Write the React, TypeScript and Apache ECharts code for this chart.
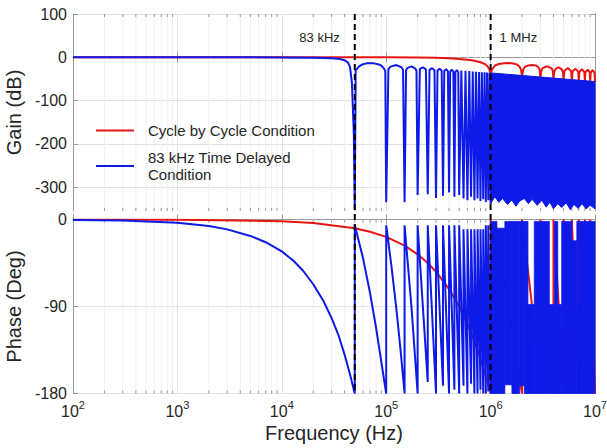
import React, { useEffect, useRef } from "react";
import * as echarts from "echarts";

// ---------------- data ----------------
const FREQ_MIN = 100;
const FREQ_MAX = 1e7;
const GAIN_MIN = -355;
const GAIN_MAX = 100;
const PHASE_MIN = -180;
const PHASE_MAX = 0;
const gainTicks = [-300, -200, -100, 0, 100];
const phaseTicks = [-180, -90, 0];
const markerFreqs = [5e4, 1e6];
const markerLabels = ["83 kHz", "1 MHz"];

const RED_NAME = "Cycle by Cycle Condition";
const BLUE_NAME = "83 kHz Time Delayed\nCondition";

// red gain (dB)
const cycleGain: [number, number][] = [
  [100, 0], [1e5, 0], [2e5, -0.5], [3e5, -1.2], [4e5, -2.2], [5e5, -3.9], [6e5, -5.8],
  [7e5, -8.2], [8e5, -11.5], [8.8e5, -15.5], [9.3e5, -20], [9.7e5, -27], [1e6, -40],
  [1.03e6, -28], [1.1e6, -19], [1.2e6, -15.5], [1.35e6, -13.5], [1.5e6, -13.3], [1.65e6, -14.2],
  [1.8e6, -17], [1.9e6, -22], [1.96e6, -29], [2e6, -45],
  [2.05e6, -29], [2.12e6, -22.5], [2.3e6, -18.8], [2.5e6, -17.9], [2.7e6, -18.8], [2.88e6, -23], [2.95e6, -30], [3e6, -48],
  [3.06e6, -31], [3.15e6, -25], [3.5e6, -20.8], [3.85e6, -25.5], [3.94e6, -31.5], [4e6, -50],
  [4.07e6, -33], [4.2e6, -27], [4.5e6, -23], [4.8e6, -28], [4.93e6, -33.5], [5e6, -52],
  [5.1e6, -31], [5.5e6, -24.8], [5.9e6, -31.5], [6e6, -53],
  [6.1e6, -32.5], [6.5e6, -26.2], [6.9e6, -33], [7e6, -54],
  [7.1e6, -33.5], [7.5e6, -27.5], [7.9e6, -34], [8e6, -55],
  [8.1e6, -34.5], [8.5e6, -28.6], [8.9e6, -35], [9e6, -56],
  [9.1e6, -35.5], [9.5e6, -29.5], [9.9e6, -36], [1e7, -57],
];

// blue gain (dB), resolved part up to 1 MHz
const delayGain: [number, number][] = [
  [100, 0], [1e3, 0], [1e4, -0.2], [2e4, -0.8], [3e4, -2], [3.6e4, -4], [4e4, -7], [4.3e4, -12],
  [4.5e4, -22], [4.7e4, -60], [4.9e4, -180], [5e4, -352],
  [5.1e4, -30], [5.5e4, -21], [6e4, -16], [6.5e4, -14], [7.5e4, -13.5], [8.5e4, -16.5], [9e4, -19.5],
  [9.5e4, -25.5], [9.8e4, -32], [1e5, -335],
  [1.05e5, -27], [1.1e5, -21.5], [1.25e5, -18], [1.4e5, -23], [1.45e5, -29], [1.5e5, -335],
  [1.55e5, -30], [1.6e5, -24.5], [1.75e5, -21], [1.9e5, -26], [1.95e5, -31], [2e5, -318],
  [2.1e5, -27], [2.25e5, -23], [2.4e5, -28], [2.5e5, -316],
  [2.6e5, -29], [2.75e5, -25], [2.9e5, -30], [3e5, -325],
  [3.1e5, -30.5], [3.25e5, -26.3], [3.4e5, -31], [3.5e5, -320],
  [3.6e5, -31], [3.75e5, -27.6], [3.9e5, -32], [4e5, -312],
  [4.1e5, -33], [4.25e5, -28.5], [4.4e5, -33], [4.5e5, -322],
  [4.6e5, -34], [4.75e5, -29.5], [4.9e5, -34], [5e5, -318],
  [5.25e5, -30.4], [5.5e5, -326], [5.75e5, -31.2], [6e5, -330],
  [6.25e5, -31.9], [6.5e5, -322], [6.75e5, -32.6], [7e5, -330],
  [7.25e5, -33.2], [7.5e5, -326], [7.75e5, -33.8], [8e5, -332],
  [8.25e5, -34.3], [8.5e5, -328], [8.75e5, -34.8], [9e5, -334],
  [9.25e5, -35.3], [9.5e5, -330], [9.75e5, -35.8], [1e6, -338],
];

// blue gain, unresolved dense band 1 MHz .. 10 MHz
const delayGainBandTop: [number, number][] = [[1e6, -36], [1e7, -56]];
const delayGainBandBottom: [number, number][] = [
  [1e6, -338], [1.1e6, -322], [1.2e6, -335], [1.3e6, -326], [1.45e6, -340], [1.6e6, -330],
  [1.75e6, -344], [1.9e6, -332], [2.1e6, -326], [2.3e6, -338], [2.5e6, -328], [2.8e6, -342],
  [3.1e6, -330], [3.4e6, -346], [3.7e6, -335], [4e6, -350], [4.4e6, -338], [4.8e6, -347],
  [5.3e6, -336], [5.8e6, -352], [6.3e6, -340], [6.9e6, -349], [7.5e6, -338], [8.2e6, -350],
  [9e6, -342], [1e7, -350],
];

// red phase (deg)
const cyclePhase: [number, number][] = [
  [100, 0], [1e3, -0.2], [1e4, -1.8], [2e4, -3.6], [5e4, -9], [7e4, -12.6], [1e5, -18],
  [1.5e5, -27], [2e5, -36], [2.5e5, -45], [3e5, -54], [4e5, -72], [5e5, -90], [6e5, -108],
  [7e5, -126], [8e5, -144], [9e5, -162], [1e6, -180],
  [1e6, 0], [1.5e6, -90], [2e6, -180], [2e6, 0], [2.5e6, -90], [3e6, -180],
  [3e6, 0], [3.5e6, -90], [4e6, -180], [4e6, 0], [4.5e6, -90], [5e6, -180],
  [5e6, 0], [6e6, -180], [6e6, 0], [7e6, -180], [7e6, 0], [8e6, -180],
  [8e6, 0], [9e6, -180], [9e6, 0], [1e7, -180],
];

// blue phase (deg), resolved sawtooth up to 1 MHz
const delayPhase: [number, number][] = [
  [100, -0.4], [300, -1.1], [1e3, -3.4], [2e3, -6.8], [3e3, -10.2], [5e3, -17], [7e3, -23.5],
  [1e4, -33], [1.3e4, -43], [1.6e4, -53], [2e4, -67], [2.5e4, -84], [3e4, -102], [3.5e4, -120],
  [4e4, -140], [4.5e4, -160], [5e4, -180],
  [5e4, -6], [6e4, -40], [7e4, -76], [8e4, -112], [9e4, -148], [1e5, -180],
  [1e5, -6], [1.125e5, -49], [1.25e5, -92], [1.375e5, -136], [1.5e5, -180],
  [1.5e5, -6], [1.75e5, -92], [2e5, -180],
  [2e5, -6], [2.25e5, -92], [2.5e5, -168],
  [2.5e5, -6], [3e5, -180], [3e5, -6], [3.5e5, -172], [3.5e5, -6], [4e5, -180],
  [4e5, -6], [4.5e5, -176], [4.5e5, -6], [5e5, -180], [5e5, -6], [5.5e5, -172],
  [5.5e5, -10], [6e5, -180], [6e5, -10], [6.5e5, -170], [6.5e5, -10], [7e5, -180],
  [7e5, -10], [7.5e5, -180], [7.5e5, -10], [8e5, -176], [8e5, -10], [8.5e5, -180],
  [8.5e5, -10], [9e5, -180], [9e5, -6], [9.5e5, -178], [9.5e5, -6], [1e6, -180],
];

// blue phase, unresolved dense blocks [fStart, fEnd, top, bottom]
const delayPhaseBlocks: [number, number, number, number][] = [
  [1.0e6, 1.15e6, -2, -180], [1.15e6, 1.37e6, -9, -180], [1.37e6, 1.6e6, -2, -171],
  [1.6e6, 1.9e6, -2, -180], [1.9e6, 2.1e6, -2, -172], [2.1e6, 2.28e6, -2, -180],
  [2.28e6, 2.62e6, -88, -180], [2.62e6, 3.65e6, -2, -180], [3.65e6, 4.1e6, -88, -180],
  [4.1e6, 4.4e6, -2, -180], [4.4e6, 4.8e6, -88, -180], [4.8e6, 6.0e6, -2, -180],
  [6.0e6, 6.7e6, -22, -180], [6.7e6, 6.95e6, -2, -180], [6.95e6, 7.1e6, -88, -180],
  [7.1e6, 1e7, -2, -180],
];

// ---------------- style ----------------
const FONT = '"Liberation Sans", Arial, Helvetica, sans-serif';
const TEXT = "#262626";
const AXIS = "#9a9a9a";
const MAJOR_GRID = "#e2e2e2";
const MINOR_GRID = "#f0f0f0";
const RED = "#e81414";
const BLUE = "#0d1ae8";

const minorFreqs: number[] = [];
for (let d = 100; d < FREQ_MAX; d *= 10) {
  for (let m = 2; m <= 9; m++) minorFreqs.push(d * m);
}

function xAxisCfg(gridIndex: number, position: string, withLabels: boolean, withSplit: boolean, name?: string) {
  return {
    type: "log",
    logBase: 10,
    min: FREQ_MIN,
    max: FREQ_MAX,
    gridIndex,
    position,
    name,
    nameLocation: "middle",
    nameGap: 29,
    nameTextStyle: { fontSize: 20, fontFamily: FONT, color: TEXT },
    axisLine: { show: true, lineStyle: { color: AXIS, width: 1 } },
    axisTick: { show: true, inside: true, length: 5, lineStyle: { color: AXIS } },
    axisLabel: withLabels
      ? {
          show: true,
          margin: 6,
          formatter: (v: number) => `{b|10}{s|${Math.round(Math.log10(v))}}`,
          rich: {
            b: { fontSize: 16, fontFamily: FONT, color: TEXT },
            s: { fontSize: 11, fontFamily: FONT, color: TEXT, padding: [0, 0, 12, 0] },
          },
        }
      : { show: false },
    splitLine: { show: withSplit, lineStyle: { color: MAJOR_GRID, width: 1 } },
  };
}

function yAxisCfg(gridIndex: number, position: string, min: number, max: number, ticks: number[], withLabels: boolean, name?: string) {
  return {
    type: "value",
    gridIndex,
    position,
    min,
    max,
    name,
    nameLocation: "middle",
    nameGap: 43,
    nameRotate: 90,
    nameTextStyle: { fontSize: 20, fontFamily: FONT, color: TEXT },
    axisLine: { show: true, lineStyle: { color: AXIS, width: 1 } },
    axisTick: { show: true, inside: true, length: 5, lineStyle: { color: AXIS }, customValues: ticks },
    axisLabel: withLabels
      ? { show: true, customValues: ticks, fontSize: 16, fontFamily: FONT, color: TEXT, margin: 6 }
      : { show: false, customValues: ticks },
    splitLine: { show: withLabels, lineStyle: { color: MAJOR_GRID, width: 1 } },
  };
}

function minorGridSeries(xAxisIndex: number, yAxisIndex: number, yMin: number, yMax: number) {
  return {
    type: "custom",
    xAxisIndex,
    yAxisIndex,
    silent: true,
    z: 1,
    data: minorFreqs.map((f) => [f, yMin]),
    renderItem: (_p: any, api: any) => {
      const f = api.value(0);
      const a = api.coord([f, yMax]);
      const b = api.coord([f, yMin]);
      return {
        type: "group",
        children: [
          { type: "line", shape: { x1: a[0], y1: a[1], x2: b[0], y2: b[1] }, style: { stroke: MINOR_GRID, lineWidth: 1 } },
          { type: "line", shape: { x1: a[0], y1: a[1], x2: a[0], y2: a[1] + 3 }, style: { stroke: AXIS, lineWidth: 1 } },
          { type: "line", shape: { x1: b[0], y1: b[1], x2: b[0], y2: b[1] - 3 }, style: { stroke: AXIS, lineWidth: 1 } },
        ],
      };
    },
  };
}

function lineSeries(name: string, data: [number, number][], color: string, xAxisIndex: number, yAxisIndex: number, z: number) {
  return {
    type: "line",
    name,
    data,
    xAxisIndex,
    yAxisIndex,
    z,
    symbol: "none",
    showSymbol: false,
    silent: true,
    lineStyle: { color, width: 2 },
    itemStyle: { color },
  };
}

export default function App() {
  const ref = useRef<HTMLDivElement>(null);

  useEffect(() => {
    if (!ref.current) return;
    const chart = echarts.init(ref.current, undefined, { renderer: "svg" });

    const option: any = {
      animation: false,
      backgroundColor: "#ffffff",
      textStyle: { fontFamily: FONT },
      grid: [
        { left: 73, right: 12, top: 14, height: 197, outerBoundsMode: "none" },
        { left: 73, right: 12, top: 219.5, height: 174, outerBoundsMode: "none" },
      ],
      legend: {
        data: [RED_NAME, BLUE_NAME],
        orient: "vertical",
        left: 95,
        top: 122,
        padding: 0,
        itemGap: 10,
        itemWidth: 38,
        itemHeight: 14,
        selectedMode: false,
        itemStyle: { opacity: 0, color: "rgba(0,0,0,0)", borderWidth: 0, borderColor: "rgba(0,0,0,0)" },
        lineStyle: { width: 2, opacity: 1 },
        textStyle: { fontSize: 15, fontFamily: FONT, color: TEXT, lineHeight: 17, padding: [0, 0, 0, 9] },
      },
      xAxis: [
        xAxisCfg(0, "bottom", false, true),
        xAxisCfg(0, "top", false, false),
        xAxisCfg(1, "bottom", true, true, "Frequency (Hz)"),
        xAxisCfg(1, "top", false, false),
      ],
      yAxis: [
        yAxisCfg(0, "left", GAIN_MIN, GAIN_MAX, gainTicks, true, "Gain (dB)"),
        yAxisCfg(0, "right", GAIN_MIN, GAIN_MAX, gainTicks, false),
        yAxisCfg(1, "left", PHASE_MIN, PHASE_MAX, phaseTicks, true, "Phase (Deg)"),
        yAxisCfg(1, "right", PHASE_MIN, PHASE_MAX, phaseTicks, false),
      ],
      series: [
        minorGridSeries(0, 0, GAIN_MIN, GAIN_MAX),
        minorGridSeries(2, 2, PHASE_MIN, PHASE_MAX),
        lineSeries(RED_NAME, cycleGain, RED, 0, 0, 3),
        lineSeries(BLUE_NAME, delayGain, BLUE, 0, 0, 4),
        {
          type: "custom",
          name: "delay-gain-band",
          xAxisIndex: 0,
          yAxisIndex: 0,
          z: 4,
          silent: true,
          data: delayGainBandBottom,
          renderItem: (params: any, api: any) => {
            if (params.dataIndex !== 0) return null;
            const pts = [
              ...delayGainBandTop.map((p) => api.coord(p)),
              ...delayGainBandBottom.slice().reverse().map((p) => api.coord(p)),
            ];
            return { type: "polygon", shape: { points: pts }, style: { fill: BLUE, stroke: BLUE, lineWidth: 1 } };
          },
        },
        lineSeries("cycle-phase", cyclePhase, RED, 2, 2, 3),
        lineSeries("delay-phase", delayPhase, BLUE, 2, 2, 4),
        {
          type: "custom",
          name: "delay-phase-band",
          xAxisIndex: 2,
          yAxisIndex: 2,
          z: 4,
          silent: true,
          data: delayPhaseBlocks,
          encode: { x: [0, 1], y: [2, 3] },
          renderItem: (_p: any, api: any) => {
            const a = api.coord([api.value(0), api.value(2)]);
            const b = api.coord([api.value(1), api.value(3)]);
            return {
              type: "rect",
              shape: { x: a[0], y: a[1], width: b[0] - a[0], height: b[1] - a[1] },
              style: { fill: BLUE, stroke: BLUE, lineWidth: 0.8 },
            };
          },
        },
      ],
    };

    chart.setOption(option);

    const yTop = chart.convertToPixel({ yAxisIndex: 0 } as any, GAIN_MAX) as number;
    const yBottom = chart.convertToPixel({ yAxisIndex: 2 } as any, PHASE_MIN) as number;
    const labelOffsets = [-15, 9];
    const graphics: any[] = [];
    markerFreqs.forEach((f, i) => {
      const x = chart.convertToPixel({ xAxisIndex: 0 } as any, f) as number;
      graphics.push({
        type: "line",
        z: 100,
        silent: true,
        shape: { x1: x, y1: yTop, x2: x, y2: yBottom },
        style: { stroke: "#000000", lineWidth: 2, lineDash: [6, 4] },
      });
      graphics.push({
        type: "text",
        z: 100,
        silent: true,
        x: x + labelOffsets[i],
        y: yTop + 23,
        style: {
          text: markerLabels[i],
          fill: TEXT,
          fontSize: 13,
          fontFamily: FONT,
          align: i === 0 ? "right" : "left",
          verticalAlign: "middle",
        },
      });
    });
    chart.setOption({ graphic: graphics });

    return () => chart.dispose();
  }, []);

  return (
    <div
      ref={ref}
      style={{ position: "fixed", left: 0, top: 0, width: 607, height: 448, background: "#fff" }}
    />
  );
}
